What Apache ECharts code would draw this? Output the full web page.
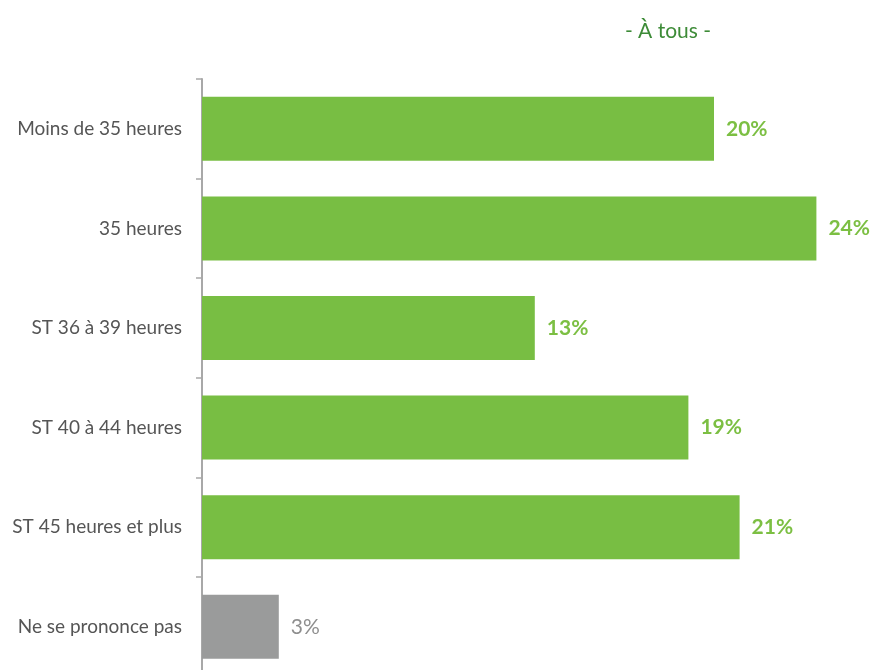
<!DOCTYPE html>
<html>
<head>
<meta charset="utf-8">
<script src="https://cdn.jsdelivr.net/npm/echarts@6/dist/echarts.min.js"></script>
<style>
html,body{margin:0;padding:0;background:#fff;overflow:hidden;}
#chart{width:873px;height:680px;}
</style>
</head>
<body>
<div id="chart"></div>
<script>
var categories = ["Moins de 35 heures", "35 heures", "ST 36 à 39 heures", "ST 40 à 44 heures", "ST 45 heures et plus", "Ne se prononce pas"];
var values = [20, 24, 13, 19, 21, 3];
var barColors = ["#78be43", "#78be43", "#78be43", "#78be43", "#78be43", "#9a9b9b"];
var labelColors = ["#7cbf43", "#7cbf43", "#7cbf43", "#7cbf43", "#7cbf43", "#8e8e8e"];
var labelWeights = ["bold", "bold", "bold", "bold", "bold", "normal"];
var titleText = "- À tous -";

var chart = echarts.init(document.getElementById('chart'));
var FONT = "Lato, 'Open Sans', sans-serif";
chart.setOption({
  animation: false,
  title: {
    text: titleText,
    left: 663, top: 16, textAlign: 'center',
    textStyle: {color: '#3d8b37', fontSize: 21, fontWeight: 'normal', fontFamily: FONT}
  },
  grid: {left: 202, top: 79, width: 665.6, height: 597.6, containLabel: false},
  xAxis: {
    type: 'value', min: 0, max: 26, show: false
  },
  yAxis: {
    type: 'category', inverse: true, data: categories,
    axisLine: {show: true, lineStyle: {color: '#a8a8a8', width: 2}},
    axisTick: {show: true, length: 6, lineStyle: {color: '#a8a8a8', width: 1.5}},
    axisLabel: {margin: 20, fontSize: 19, color: '#555', fontFamily: FONT}
  },
  series: [{
    type: 'bar',
    barWidth: 64,
    data: values.map(function(v, i){
      return {
        value: v,
        itemStyle: {color: barColors[i]},
        label: {color: labelColors[i], fontWeight: labelWeights[i]}
      };
    }),
    label: {
      show: true, position: 'right', distance: 12,
      formatter: '{c}%', fontSize: 21, fontFamily: FONT
    }
  }]
});
</script>
</body>
</html>
